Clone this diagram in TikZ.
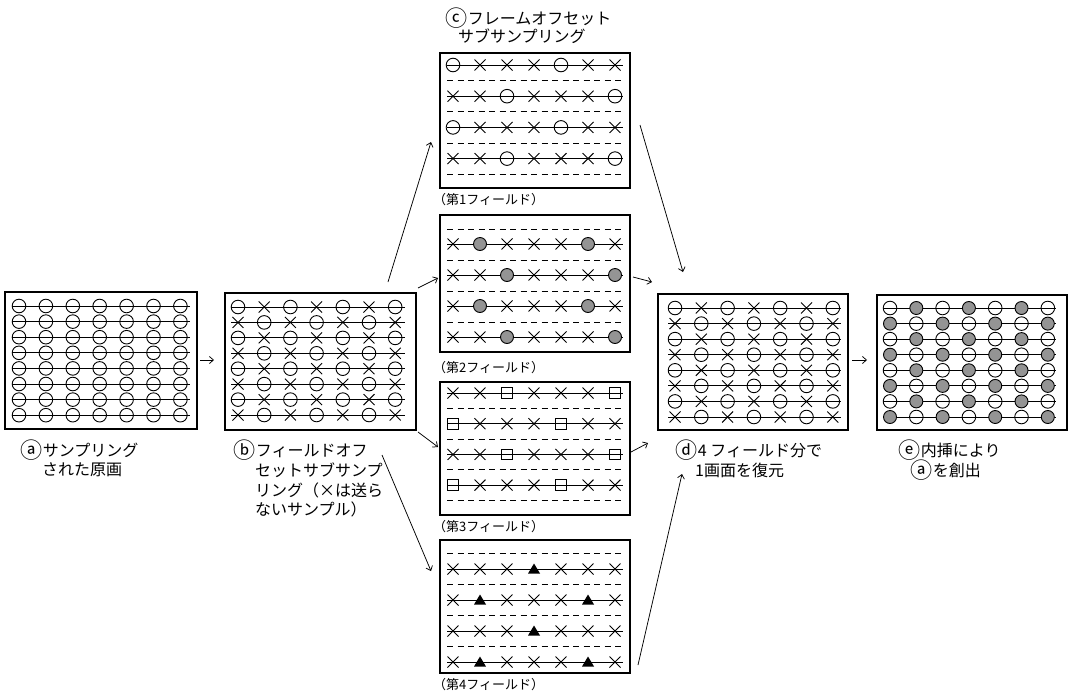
\documentclass[tikz,border=0pt]{standalone}
\usepackage{fontspec}
\setmainfont{Noto Sans CJK JP}
\usetikzlibrary{arrows.meta,calc}
\newcommand\prow[6]{%
  \draw[ln] (#3,#5) -- (#4,#5);
  \foreach \s [count=\j from 0] in {#6} {\pic at ({#1+#2*\j},#5) {m\s};}}
\newcommand\pdash[3]{\draw[dl] (#1,#3) -- (#2,#3);}
\newcommand\circl[1]{\raisebox{-0.12em}{\scalebox{1.38}{#1}}\hspace{0.04em}}
\begin{document}
\begin{tikzpicture}[x=1pt,y=-1pt,
  panel/.style={draw, line width=1.1pt, inner sep=0pt},
  ln/.style={line width=0.9pt},
  dl/.style={line width=0.9pt, dash pattern=on 6pt off 4.5pt},
  sym/.style={line width=0.9pt},
  arr/.style={line width=0.75pt, -{Straight Barb[length=4pt,width=7pt]}},
  lab/.style={anchor=west, inner sep=0pt, font=\fontsize{16}{18}\selectfont},
  slab/.style={anchor=west, inner sep=0pt, font=\fontsize{13}{15}\selectfont},
  mO/.pic={\draw[sym] (0,0) circle (6.8);},
  mX/.pic={\draw[sym] (-5.5,-5.5) -- (5.5,5.5) (-5.5,5.5) -- (5.5,-5.5);},
  mG/.pic={\draw[sym, fill=black!42] (0,0) circle (6.5);},
  mQ/.pic={\draw[sym] (-5.3,-5.3) rectangle (5.3,5.3);},
  mT/.pic={\fill (-6,4.5) -- (6,4.5) -- (0,-5.5) -- cycle;},
]
\useasboundingbox (0,0) rectangle (1070,694);

% ---------- panel boxes ----------
\node[panel, minimum width=192pt, minimum height=137pt] (pa) at (101,360.5) {};
\node[panel, minimum width=191pt, minimum height=137pt] (pb) at (320.5,361.5) {};
\node[panel, minimum width=190pt, minimum height=135pt] (pc1) at (535,120.5) {};
\node[panel, minimum width=190pt, minimum height=137pt] (pc2) at (535,283.5) {};
\node[panel, minimum width=190pt, minimum height=133pt] (pc3) at (535,448.5) {};
\node[panel, minimum width=190pt, minimum height=133pt] (pc4) at (535,606.5) {};
\node[panel, minimum width=190pt, minimum height=136pt] (pd) at (753,362) {};
\node[panel, minimum width=190pt, minimum height=135pt] (pe) at (972,362.5) {};

% ---------- panel a ----------
\foreach \yy in {306,321.6,337.2,352.8,368.4,384,399.6,415.2}
  {\prow{19}{26.9}{12}{190}{\yy}{O,O,O,O,O,O,O}}

% ---------- panel b ----------
\foreach \yy in {307,337.9,368.7,399.6}
  {\prow{238}{26.2}{231}{405}{\yy}{O,X,O,X,O,X,O}}
\foreach \yy in {322.4,353.3,384.1,415}
  {\prow{238}{26.2}{231}{405}{\yy}{X,O,X,O,X,O,X}}

% ---------- panel c1 ----------
\prow{453}{27}{447}{623}{65}{O,X,X,X,O,X,X}
\prow{453}{27}{447}{623}{96.2}{X,X,O,X,X,X,O}
\prow{453}{27}{447}{623}{127.4}{O,X,X,X,O,X,X}
\prow{453}{27}{447}{623}{158.6}{X,X,O,X,X,X,O}
\foreach \yy in {80.6,111.8,143,174.2} {\pdash{447}{623}{\yy}}

% ---------- panel c2 ----------
\prow{453}{27}{447}{623}{244}{X,G,X,X,X,G,X}
\prow{453}{27}{447}{623}{275}{X,X,G,X,X,X,G}
\prow{453}{27}{447}{623}{306}{X,G,X,X,X,G,X}
\prow{453}{27}{447}{623}{337}{X,X,G,X,X,X,G}
\foreach \yy in {229,260,291,322} {\pdash{447}{623}{\yy}}

% ---------- panel c3 ----------
\prow{453}{27}{447}{623}{393}{X,X,Q,X,X,X,Q}
\prow{453}{27}{447}{623}{423.7}{Q,X,X,X,Q,X,X}
\prow{453}{27}{447}{623}{454.4}{X,X,Q,X,X,X,Q}
\prow{453}{27}{447}{623}{485.1}{Q,X,X,X,Q,X,X}
\foreach \yy in {408.3,439,469.7,500.4} {\pdash{447}{623}{\yy}}

% ---------- panel c4 ----------
\prow{453}{27}{447}{623}{569}{X,X,X,T,X,X,X}
\prow{453}{27}{447}{623}{600}{X,T,X,X,X,T,X}
\prow{453}{27}{447}{623}{631}{X,X,X,T,X,X,X}
\prow{453}{27}{447}{623}{662}{X,T,X,X,X,T,X}
\foreach \yy in {553.5,584.5,615.5,646.5} {\pdash{447}{623}{\yy}}

% ---------- panel d ----------
\foreach \yy in {308,339.1,370.3,401.4}
  {\prow{675}{26.3}{668}{841}{\yy}{O,X,O,X,O,X,O}}
\foreach \yy in {323.6,354.7,385.9,417}
  {\prow{675}{26.3}{668}{841}{\yy}{X,O,X,O,X,O,X}}

% ---------- panel e ----------
\foreach \yy in {308,339.1,370.3,401.4}
  {\prow{890}{26.3}{883}{1056}{\yy}{O,G,O,G,O,G,O}}
\foreach \yy in {323.6,354.7,385.9,417}
  {\prow{890}{26.3}{883}{1056}{\yy}{G,O,G,O,G,O,G}}

% ---------- labels ----------
\node[lab] (la1) at (20,450) {\circl{ⓐ}サンプリング};
\node[lab] (la2) at (42,470) {された原画};
\node[lab] (lb1) at (233,450) {\circl{ⓑ}フィールドオフ};
\node[lab] (lb2) at (255,470) {セットサブサンプ};
\node[lab] (lb3) at (255,490) {リング（×は送ら};
\node[lab] (lb4) at (255,509) {ないサンプル）};
\node[lab] (lc1) at (445,18) {\circl{ⓒ}フレームオフセット};
\node[lab] (lc2) at (458,36) {サブサンプリング};
\node[slab] (f1) at (433,200) {（第1フィールド）};
\node[slab] (f2) at (433,368) {（第2フィールド）};
\node[slab] (f3) at (433,527) {（第3フィールド）};
\node[slab] (f4) at (433,685) {（第4フィールド）};
\node[lab] (ld1) at (675,450) {\circl{ⓓ}4 フィールド分で};
\node[lab] (ld2) at (695,470) {1画面を復元};
\node[lab] (le1) at (898,450) {\circl{ⓔ}内挿により};
\node[lab] (le2) at (910,470) {\circl{ⓐ}を創出};

% ---------- connectors ----------
\coordinate (ab0) at (200,360);  \coordinate (ab1) at (214,360);
\coordinate (bc10) at (388,282); \coordinate (bc11) at (431,142);
\coordinate (bc20) at (418,288); \coordinate (bc21) at (438,278);
\coordinate (bc30) at (418,432); \coordinate (bc31) at (438,447);
\coordinate (bc40) at (382,455); \coordinate (bc41) at (431,571);
\coordinate (c1d0) at (640,125); \coordinate (c1d1) at (683,272);
\coordinate (c2d0) at (633,277); \coordinate (c2d1) at (652,282);
\coordinate (c3d0) at (631,452); \coordinate (c3d1) at (648,443);
\coordinate (c4d0) at (638,665); \coordinate (c4d1) at (682,474);
\coordinate (de0) at (852,360);  \coordinate (de1) at (867,360);
\draw[arr] (ab0) -- (ab1);
\draw[arr] (bc10) -- (bc11);
\draw[arr] (bc20) -- (bc21);
\draw[arr] (bc30) -- (bc31);
\draw[arr] (bc40) -- (bc41);
\draw[arr] (c1d0) -- (c1d1);
\draw[arr] (c2d0) -- (c2d1);
\draw[arr] (c3d0) -- (c3d1);
\draw[arr] (c4d0) -- (c4d1);
\draw[arr] (de0) -- (de1);
\end{tikzpicture}
\end{document}
